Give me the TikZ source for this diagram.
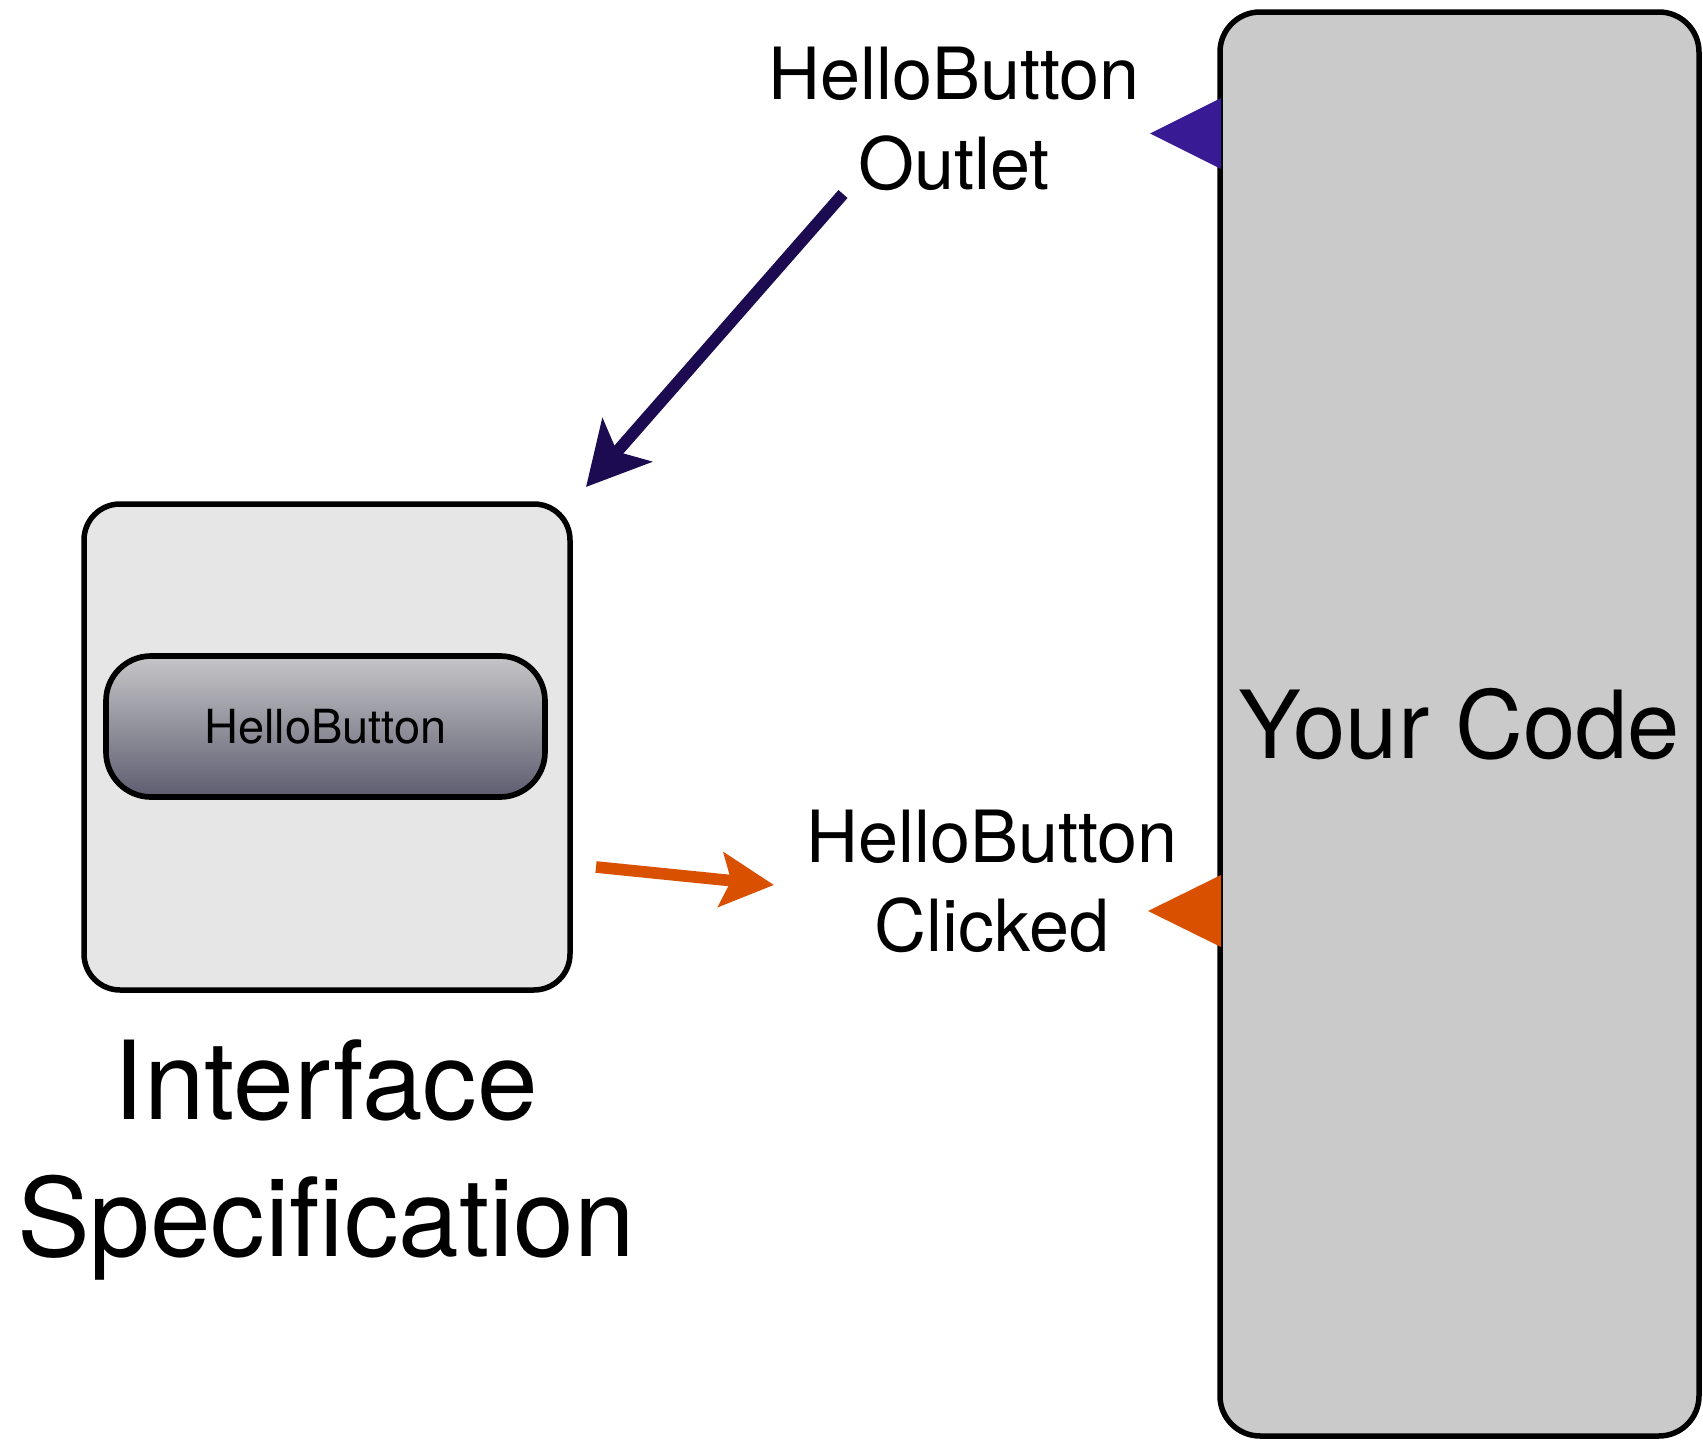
\documentclass[tikz,border=0pt]{standalone}
\usepackage{fontspec}
\setmainfont{TeX Gyre Heros}
\usetikzlibrary{arrows.meta}

\definecolor{codegray}{HTML}{CACACA}
\definecolor{ifacegray}{HTML}{E6E6E6}
\definecolor{btntop}{HTML}{C6C6C8}
\definecolor{btnbottom}{HTML}{5E5D70}
\definecolor{outletnavy}{HTML}{1D0B52}
\definecolor{outletblue}{HTML}{371A94}
\definecolor{actionorange}{HTML}{D95100}

\tikzset{
  codebox/.style={draw=black, fill=codegray, line width=1.65pt,
    rounded corners=12pt, inner sep=0pt,
    minimum width=143.7pt, minimum height=427.2pt,
    font=\fontsize{28.2}{33}\selectfont},
  ifacebox/.style={draw=black, fill=ifacegray, line width=1.65pt,
    rounded corners=10.8pt, inner sep=0pt,
    minimum width=145.8pt, minimum height=145.8pt},
  buttonbox/.style={draw=black, line width=1.7pt, rounded corners=13.5pt,
    top color=btntop, bottom color=btnbottom, inner sep=0pt,
    minimum width=131.7pt, minimum height=42.3pt,
    font=\fontsize{14.1}{17}\selectfont},
  label/.style={align=center, inner sep=0pt},
  outletarrow/.style={draw=outletnavy, line width=3.6pt,
    -{Stealth[length=18.6pt, width=19.5pt, inset=4.5pt]}},
  actionarrow/.style={draw=actionorange, line width=3.5pt,
    -{Stealth[length=15.9pt, width=16.2pt, inset=3pt]}},
}

\begin{document}
\begin{tikzpicture}[x=0.3pt, y=-0.3pt]
  \useasboundingbox (0,0) rectangle (1703,1440);

  % the code block on the right
  \node[codebox] (code) at (1459.5,724) {Your Code};

  % connection points on the code block
  \fill[outletblue] (1221,98) -- (1150,133.5) -- (1221,169) -- cycle;
  \fill[actionorange] (1221,875) -- (1148,911) -- (1221,947) -- cycle;

  % the interface window with its button
  \node[ifacebox] (iface) at (327,747) {};
  \node[buttonbox] (btn) at (325.5,726.5) {HelloButton};
  \node[label, font=\fontsize{32.7}{41.1}\selectfont] (ifacelabel)
    at (326,1160) {Interface\\Specification};

  % outlet and action labels
  \node[label, font=\fontsize{21.6}{27}\selectfont] (outletlabel)
    at (954,119) {HelloButton\\Outlet};
  \node[label, font=\fontsize{21.6}{26.7}\selectfont] (clickedlabel)
    at (992,881) {HelloButton\\Clicked};

  % arrow ends
  \coordinate (outletTail) at (843,194);
  \coordinate (ifaceTop) at (586,487);
  \coordinate (ifaceRight) at (596,867);
  \coordinate (clickedIn) at (774,885);

  \draw[outletarrow] (outletTail) -- (ifaceTop);
  \draw[actionarrow] (ifaceRight) -- (clickedIn);
\end{tikzpicture}
\end{document}
